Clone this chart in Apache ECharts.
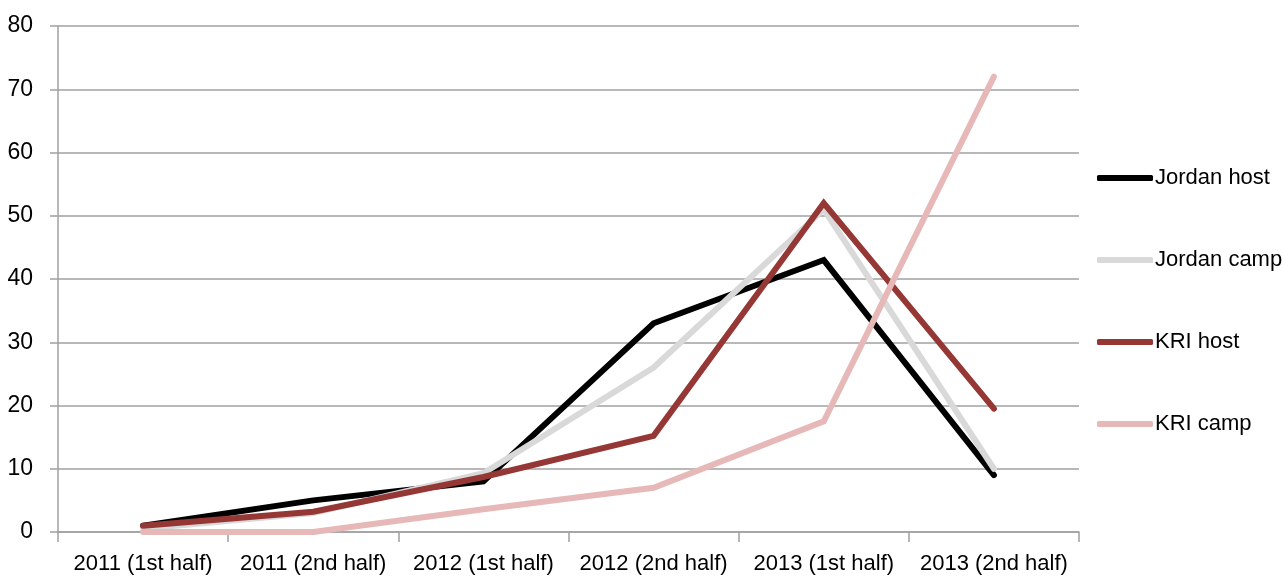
<!DOCTYPE html>
<html><head><meta charset="utf-8">
<script src="https://cdn.jsdelivr.net/npm/echarts@6/dist/echarts.min.js"></script>
<style>html,body{margin:0;padding:0;background:#fff}#c{width:1283px;height:578px}</style>
</head><body><div id="c"></div>
<script>
const categories = ['2011 (1st half)','2011 (2nd half)','2012 (1st half)','2012 (2nd half)','2013 (1st half)','2013 (2nd half)'];
const jordanHost = [1, 5, 8, 33, 43, 9];
const jordanCamp = [0.5, 3, 9.3, 26, 51, 10];
const kriHost = [1, 3.2, 8.7, 15.2, 52, 19.5];
const kriCamp = [0, 0, 3.6, 7, 17.5, 72];
const seriesNames = ['Jordan host','Jordan camp','KRI host','KRI camp'];
const colors = ['#000000','#d9d9d9','#953735','#e6b9b8'];
const FONT = '"Liberation Sans", Arial, sans-serif';

const chart = echarts.init(document.getElementById('c'));
const data = [jordanHost, jordanCamp, kriHost, kriCamp];
chart.setOption({
  animation: false,
  grid: {left: 58, right: 204, top: 26, bottom: 46},
  legend: {
    orient: 'vertical', left: 1097, top: 166, padding: 0,
    itemWidth: 56, itemHeight: 6, itemGap: 58,
    icon: 'roundRect',
    textStyle: {fontFamily: FONT, fontSize: 22, color: '#000', lineHeight: 24, padding: [0,0,0,-3]},
    data: seriesNames
  },
  xAxis: {
    type: 'category', data: categories, boundaryGap: true,
    axisLine: {lineStyle: {color: '#a0a0a0', width: 1.5}},
    axisTick: {show: true, length: 10, lineStyle: {color: '#a0a0a0', width: 1.5}},
    axisLabel: {fontFamily: FONT, fontSize: 22, color: '#000', margin: 21, interval: 0}
  },
  yAxis: {
    type: 'value', min: 0, max: 80, interval: 10,
    axisLine: {show: true, lineStyle: {color: '#a0a0a0', width: 1.5}},
    axisTick: {show: true, length: 8, lineStyle: {color: '#a0a0a0', width: 1.5}},
    splitLine: {lineStyle: {color: '#a0a0a0', width: 1.5}},
    axisLabel: {fontFamily: FONT, fontSize: 23, color: '#000', margin: 25}
  },
  series: seriesNames.map((n, i) => ({
    name: n, type: 'line', data: data[i], symbol: 'none',
    color: colors[i],
    lineStyle: {color: colors[i], width: 6, cap: 'round', join: 'miter'}
  }))
});
</script></body></html>
